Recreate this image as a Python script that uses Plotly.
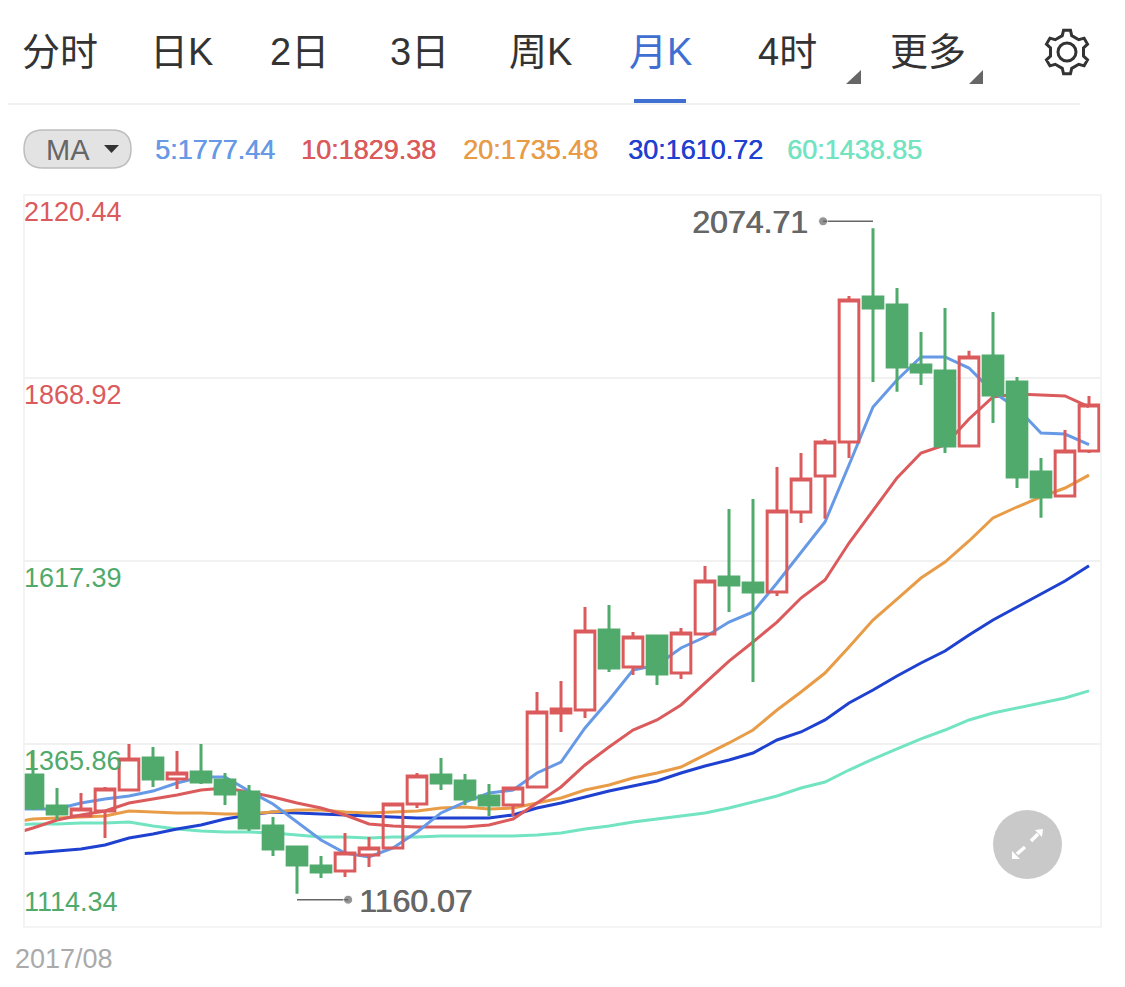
import math

import plotly.graph_objects as go

# monthly candles, first one is 2017/08
OPEN = [1323.3, 1280.7, 1266.9, 1273.8, 1302.6, 1346.6, 1317.8, 1327.4, 1316.4, 1299.9, 1253.2, 1224.3, 1198.2, 1191.3, 1213.3,
        1222.9, 1283.4, 1323.3, 1315.0, 1294.4, 1282.0, 1306.8, 1408.5, 1412.6, 1522.6, 1471.7, 1514.3, 1463.5, 1517.1, 1595.4,
        1587.2, 1574.8, 1684.8, 1734.2, 1781.0, 1980.3, 1969.3, 1886.9, 1878.6, 1775.5, 1899.2, 1863.5, 1739.8, 1706.8, 1768.7]
HIGH = [1357.6, 1305.4, 1298.5, 1306.8, 1365.9, 1361.7, 1356.2, 1365.9, 1326.0, 1309.5, 1265.5, 1224.3, 1211.9, 1243.5, 1238.0,
        1284.8, 1326.0, 1346.6, 1324.6, 1310.9, 1306.8, 1437.3, 1452.5, 1554.2, 1556.9, 1519.8, 1515.7, 1525.3, 1610.5, 1688.9,
        1702.6, 1746.6, 1765.9, 1785.1, 1981.7, 2074.71, 1992.7, 1932.2, 1965.2, 1906.2, 1959.7, 1870.4, 1759.0, 1797.5, 1844.2]
LOW = [1275.2, 1261.4, 1265.5, 1236.7, 1302.6, 1306.8, 1304.0, 1310.9, 1282.0, 1246.3, 1211.9, 1160.07, 1181.7, 1183.1, 1196.8,
       1222.9, 1277.9, 1302.6, 1282.0, 1266.9, 1266.9, 1306.8, 1382.4, 1401.6, 1464.8, 1460.7, 1447.0, 1455.2, 1517.1, 1547.3,
       1451.1, 1569.3, 1669.6, 1675.5, 1759.0, 1863.5, 1850.0, 1859.3, 1765.9, 1775.5, 1807.1, 1717.8, 1676.9, 1706.8, 1765.9]
CLOSE = [1277.9, 1269.7, 1276.5, 1304.0, 1345.2, 1317.8, 1326.0, 1313.6, 1297.1, 1250.4, 1221.6, 1199.6, 1189.9, 1216.0, 1222.9,
         1283.4, 1321.9, 1312.3, 1290.3, 1282.0, 1305.4, 1409.9, 1414.0, 1521.2, 1470.3, 1512.9, 1462.1, 1518.4, 1589.9, 1584.4,
         1574.8, 1686.1, 1730.1, 1781.0, 1976.2, 1965.2, 1884.1, 1877.2, 1775.5, 1897.9, 1845.6, 1732.9, 1705.4, 1768.7, 1831.9]

# moving averages start one month before the first visible candle
MA5 = [1276.5, 1276.5, 1276.5, 1284.8, 1290.3, 1294.4, 1301.2, 1312.3, 1320.5, 1320.5, 1301.2, 1283.4, 1258.6, 1233.9, 1216.0, 1210.6,
       1222.9, 1244.9, 1271.1, 1286.1, 1298.5, 1302.6, 1326.0, 1341.1, 1387.9, 1426.3, 1467.5, 1474.4, 1497.8, 1512.9, 1533.5, 1547.3,
       1587.2, 1629.8, 1671.0, 1749.3, 1829.1, 1866.2, 1897.8, 1897.8, 1882.6, 1849.7, 1827.7, 1793.3, 1791.9, 1777.44]
MA10 = [1240.8, 1250.4, 1261.4, 1268.3, 1273.8, 1284.8, 1290.3, 1295.7, 1302.6, 1305.4, 1299.9, 1293.0, 1284.8, 1277.9, 1268.3, 1255.9,
        1253.2, 1251.8, 1251.8, 1251.8, 1254.6, 1262.8, 1284.8, 1306.8, 1337.0, 1361.7, 1385.1, 1398.9, 1419.5, 1449.7, 1479.9, 1506.1,
        1533.5, 1566.5, 1591.3, 1642.1, 1687.5, 1731.5, 1765.8, 1776.8, 1812.6, 1842.8, 1846.9, 1845.6, 1844.2, 1829.38]
MA20 = [1257.2, 1262.8, 1264.1, 1265.5, 1266.9, 1273.8, 1272.4, 1271.1, 1271.1, 1269.7, 1269.7, 1272.4, 1275.2, 1275.2, 1272.4, 1271.1,
        1272.4, 1273.8, 1277.9, 1279.3, 1276.5, 1277.9, 1284.8, 1291.6, 1302.6, 1309.5, 1319.1, 1326.0, 1334.3, 1350.8, 1367.3, 1385.1,
        1412.6, 1437.3, 1463.4, 1499.2, 1536.3, 1565.1, 1594.0, 1616.0, 1644.9, 1676.5, 1691.6, 1705.4, 1717.7, 1735.48]
MA30 = [1214.6, 1216.0, 1218.8, 1221.5, 1227.0, 1236.6, 1242.1, 1249.0, 1254.5, 1262.8, 1268.3, 1272.4, 1271.1, 1269.7, 1268.3, 1266.9,
        1265.5, 1264.1, 1264.1, 1264.1, 1264.1, 1268.3, 1277.9, 1284.8, 1293.0, 1301.2, 1308.1, 1315.0, 1326.0, 1335.6, 1343.9, 1353.5,
        1371.4, 1382.4, 1398.9, 1422.2, 1440.1, 1459.3, 1477.2, 1493.7, 1515.7, 1536.3, 1554.1, 1572.0, 1589.9, 1610.72]
MA60 = [1254.5, 1255.9, 1255.9, 1257.2, 1257.2, 1258.6, 1253.2, 1249.0, 1246.3, 1244.9, 1244.9, 1243.5, 1240.8, 1238.0, 1238.0, 1236.6,
        1238.0, 1238.0, 1239.4, 1239.4, 1239.4, 1239.4, 1240.8, 1243.5, 1249.0, 1253.2, 1258.6, 1262.8, 1266.9, 1271.1, 1277.9, 1286.1,
        1294.4, 1305.4, 1313.6, 1330.1, 1345.2, 1359.0, 1372.8, 1385.1, 1398.9, 1408.5, 1415.4, 1422.2, 1429.1, 1438.85]

Y_TICKS = [2120.44, 1868.92, 1617.39, 1365.86, 1114.34]
TABS = ["分时", "日K", "2日", "3日", "周K", "月K", "4时", "更多"]

RED = "#DB5A5C"
GREEN = "#4FAA6C"
LATIN = "Liberation Sans"
CJK = "Liberation Sans, Noto Sans CJK SC"

# the browser keeps its default 8px body margin round the figure
PAD = 8
W, H = 1125 - 2 * PAD, 987 - 2 * PAD


def px(x):
    return (x - PAD) / W


def py(y):
    return 1 - (y - PAD) / H


def path(points, close=False):
    d = "M " + " L ".join(f"{px(x):.5f} {py(y):.5f}" for x, y in points)
    return d + " Z" if close else d


def label(fig, x, y, text, size, color, anchor="left", family=LATIN, heavy=0):
    # a small offset shadow stands in for the medium weight the fonts here lack
    shadow = f"{heavy}px 0 0 {color}" if heavy else "none"
    fig.add_annotation(
        x=px(x), y=py(y), xref="paper", yref="paper", text=text, showarrow=False,
        xanchor=anchor, yanchor="middle", font=dict(size=size, color=color, family=family, shadow=shadow),
    )


def shape_path(fig, d, fill="rgba(0,0,0,0)", color="rgba(0,0,0,0)", width=0):
    fig.add_shape(type="path", xref="paper", yref="paper", path=d, fillcolor=fill, line=dict(color=color, width=width))


def gear_points(cx, cy, outer, inner, teeth):
    pts = []
    step = 2 * math.pi / teeth
    for i in range(teeth):
        a = -math.pi / 2 + step * i
        for off, r in [(-0.27, inner), (-0.15, outer), (0.15, outer), (0.27, inner)]:
            t = a + off * step
            pts.append((cx + r * math.cos(t), cy + r * math.sin(t)))
    return pts


def pill_path(x0, y0, x1, y1):
    r = (y1 - y0) / 2
    return (
        f"M {px(x0 + r):.5f} {py(y0):.5f} L {px(x1 - r):.5f} {py(y0):.5f} "
        f"Q {px(x1):.5f} {py(y0):.5f} {px(x1):.5f} {py(y0 + r):.5f} "
        f"Q {px(x1):.5f} {py(y1):.5f} {px(x1 - r):.5f} {py(y1):.5f} "
        f"L {px(x0 + r):.5f} {py(y1):.5f} "
        f"Q {px(x0):.5f} {py(y1):.5f} {px(x0):.5f} {py(y0 + r):.5f} "
        f"Q {px(x0):.5f} {py(y0):.5f} {px(x0 + r):.5f} {py(y0):.5f} Z"
    )


fig = go.Figure()

ma_x = list(range(-1, len(CLOSE)))
for name, values, color in [
    ("MA60", MA60, "#72E4C1"),
    ("MA30", MA30, "#1F41D0"),
    ("MA20", MA20, "#E89C47"),
    ("MA10", MA10, "#DB5A5C"),
    ("MA5", MA5, "#6699E6"),
]:
    fig.add_trace(go.Scatter(x=ma_x, y=values, mode="lines", name=name, line=dict(color=color, width=3)))

# on overlaying axes so that the candles sit above the MA lines
fig.add_trace(
    go.Candlestick(
        x=list(range(len(CLOSE))), open=OPEN, high=HIGH, low=LOW, close=CLOSE, xaxis="x2", yaxis="y2",
        increasing=dict(line=dict(color=RED, width=3), fillcolor="rgba(0,0,0,0)"),
        decreasing=dict(line=dict(color=GREEN, width=3), fillcolor=GREEN),
        whiskerwidth=0,
    )
)

# high and low markers
hi_i, lo_i = HIGH.index(max(HIGH)), LOW.index(min(LOW))
for i, value, off, price in [(hi_i, max(HIGH), -2.08, 9.6), (lo_i, min(LOW), 2.13, -8.2)]:
    fig.add_trace(
        go.Scatter(
            x=[i, i + off], y=[value + price, value + price], mode="lines+markers", xaxis="x2", yaxis="y2",
            line=dict(color="#666666", width=1.5), marker=dict(size=[0, 9], color="#666666"),
        )
    )

x_range = [-0.375, 44.5]
y_range = [Y_TICKS[-1], Y_TICKS[0]]
x_dom = [px(24), px(1101)]
y_dom = [py(927), py(195)]
fig.update_layout(
    width=W, height=H, margin=dict(l=0, r=0, t=0, b=0), showlegend=False, paper_bgcolor="white", plot_bgcolor="white",
    boxgap=0.18, boxgroupgap=0,
    xaxis=dict(range=x_range, domain=x_dom, showgrid=False, zeroline=False, showticklabels=False, ticks=""),
    yaxis=dict(
        range=y_range, domain=y_dom, tickvals=Y_TICKS[1:-1], showgrid=True, gridcolor="#F1F1F1", gridwidth=1.5,
        zeroline=False, showticklabels=False, ticks="",
    ),
    xaxis2=dict(range=x_range, overlaying="x", visible=False, rangeslider=dict(visible=False)),
    yaxis2=dict(range=y_range, overlaying="y", visible=False),
)

# plot frame
fig.add_shape(
    type="rect", xref="paper", yref="paper", x0=px(24), x1=px(1101), y0=py(927), y1=py(195),
    line=dict(color="#F1F1F1", width=1.5),
)

# y labels sit inside the plot
for value, y, color in zip(Y_TICKS, [212, 395, 578, 761, 902], [RED, RED, GREEN, GREEN, GREEN]):
    label(fig, 22, y, f"{value:.2f}", 27, color)

label(fig, 690, 222, f"{max(HIGH):.2f}", 32, "#666666", heavy=0.8)
label(fig, 357, 901, f"{min(LOW):.2f}", 32, "#666666", heavy=0.8)
label(fig, 13, 959, "2017/08", 27, "#AAAAAA")

# tab bar
for text, x in zip(TABS, [60, 181, 299, 419, 540, 660, 787, 928]):
    color = "#3F6FD1" if text == "月K" else "#333333"
    label(fig, x, 52, text, 38, color, anchor="center", family=CJK)
fig.add_shape(type="line", xref="paper", yref="paper", x0=px(0), x1=px(1080), y0=py(104), y1=py(104), line=dict(color="#F1F1F1", width=2))
fig.add_shape(type="rect", xref="paper", yref="paper", x0=px(634), x1=px(686), y0=py(103), y1=py(99), fillcolor="#3F6FD1", line=dict(width=0))
shape_path(fig, path([(861, 70), (861, 84), (846, 84)], close=True), fill="#666666")
shape_path(fig, path([(983, 70), (983, 84), (969, 84)], close=True), fill="#666666")

# settings gear
shape_path(fig, path(gear_points(1067, 52, 22, 17, 6), close=True), color="#333333", width=3)
fig.add_shape(type="circle", xref="paper", yref="paper", x0=px(1058), x1=px(1076), y0=py(61), y1=py(43), line=dict(color="#333333", width=3))

# MA selector and legend
shape_path(fig, pill_path(24, 130, 131, 168), fill="#E3E3E3", color="#BDBDBD", width=1.5)
label(fig, 68, 150, "MA", 29, "#666666", anchor="center")
shape_path(fig, path([(104, 145), (119, 145), (111.5, 153)], close=True), fill="#333333")
for text, x, color in [
    (f"5:{MA5[-1]:.2f}", 153, "#6699E6"),
    (f"10:{MA10[-1]:.2f}", 299, "#DB5A5C"),
    (f"20:{MA20[-1]:.2f}", 461, "#E89C47"),
    (f"30:{MA30[-1]:.2f}", 626, "#1F41D0"),
    (f"60:{MA60[-1]:.2f}", 785, "#72E4C1"),
]:
    label(fig, x, 150, text, 27, color, heavy=0.5)

# expand button
fig.add_shape(type="circle", xref="paper", yref="paper", x0=px(993), x1=px(1062), y0=py(879), y1=py(810), fillcolor="#C9C9C9", line=dict(width=0))
shape_path(fig, path([(1031, 841), (1038, 834)]), color="white", width=3.5)
shape_path(fig, path([(1043, 829), (1035, 830), (1042, 837)], close=True), fill="white")
shape_path(fig, path([(1025, 847), (1017, 854)]), color="white", width=3.5)
shape_path(fig, path([(1012, 859), (1012, 851), (1020, 859)], close=True), fill="white")

fig.write_html("out.html")
